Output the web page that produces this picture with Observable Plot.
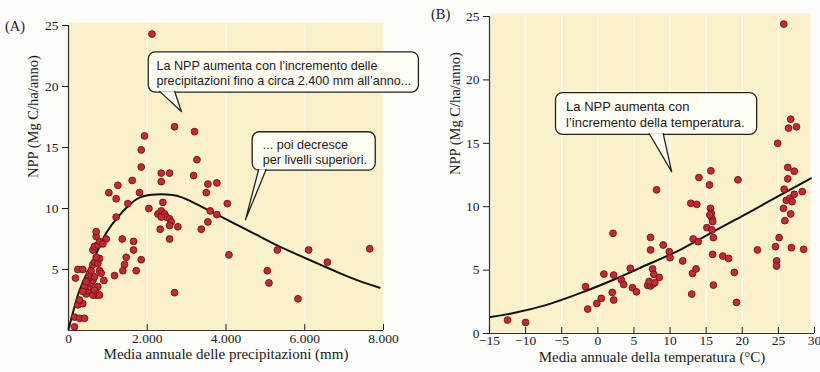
<!DOCTYPE html>
<html>
<head>
<meta charset="utf-8">
<script src="https://cdn.jsdelivr.net/npm/d3@7"></script>
<script src="https://cdn.jsdelivr.net/npm/@observablehq/plot@0.6"></script>
<style>
  body { margin: 0; background: #fcfcfa; }
  #wrap { position: relative; width: 820px; height: 372px; overflow: hidden; }
  .panel { position: absolute; top: 0; }
  .tag { position: absolute; font-family: "Liberation Serif", serif; font-size: 14.5px; color: #1a1a1a; }
</style>
</head>
<body>
<div id="wrap">
  <div id="a" class="panel" style="left:0px"></div>
  <div id="b" class="panel" style="left:410px"></div>
  <div class="tag" style="left:5px;top:18px">(A)</div>
  <div class="tag" style="left:431px;top:6px">(B)</div>
</div>
<script>
// ---------- Panel A: precipitation (mm) vs NPP ----------
const precipMM = [2120,2694,3202,1931,1847,3262,1847,2356,2567,3177,1618,2356,1254,3540,3768,1804,3499,1025,1211,1508,2397,4033,2041,3601,3768,3540,1211,
  2272,2356,2440,2482,2567,2609,2567,2356,2330,2567,2778,3372,4074,5303,6099,7650,6574,5049,5091,5828,2694,1847,1380,1423,1720,1466,1652,1652,1364,1169,958,898,
  152,152,280,407,236,363,280,178,236,363,449,491,534,576,619,661,703,619,534,491,576,619,661,746,788,703,619,661,746,788,873,703,703,788,830,746,661,746,788,407,363,449];
const precipNPP = [24.3,16.7,16.3,15.95,14.8,14.0,13.4,12.9,12.9,12.7,12.3,12.2,11.9,12.0,12.1,11.3,11.3,11.3,10.8,10.4,10.5,10.4,10.0,9.8,9.5,8.9,9.3,
  9.55,9.8,9.55,9.3,9.15,8.9,8.6,9.3,8.3,7.5,8.5,8.3,6.2,6.6,6.6,6.7,5.6,4.9,3.9,2.6,3.1,5.8,4.9,5.4,4.9,6.0,6.6,7.3,7.5,4.5,7.5,4.1,
  0.3,1.1,1.0,1.0,2.1,2.2,2.5,4.3,5.0,5.0,3.0,3.3,3.6,3.9,4.1,4.4,2.9,2.9,4.7,4.1,4.9,5.4,5.6,5.5,5.9,6.0,6.6,6.9,7.0,7.3,7.1,7.7,8.1,4.9,4.7,3.6,3.3,3.0,2.9,3.6,3.2,4.0];
const curveA_x = [0,280,534,746,958,1254,1550,1850,2230,2500,2750,3075,3499,3922,4346,4770,5193,5617,6040,6464,6887,7311,7903];
const curveA_y = [0.1,3.3,5.1,6.6,8.0,9.3,10.3,10.95,11.15,11.15,11.05,10.65,9.95,9.25,8.55,7.85,7.15,6.5,5.9,5.3,4.7,4.15,3.5];
const ticksA_x = [0,2000,4000,6000,8000];
const ticksA_y = [5,10,15,20,25];

// ---------- Panel B: temperature (°C) vs NPP ----------
const tempC = [-12.5,-10.0,-1.7,-1.4,-0.14,0.47,0.84,2.1,2.19,2.0,2.19,3.26,3.58,4.5,4.79,5.35,7.3,7.3,6.9,7.3,7.6,7.1,7.9,7.58,7.76,8.5,8.13,9.05,9.9,10.0,11.75,
  12.87,13.7,13.2,13.9,13.1,13.6,13.0,14.0,15.65,15.46,19.4,15.6,15.7,15.8,15.9,15.5,15.1,15.8,16.0,15.9,16.0,17.3,18.1,18.9,19.2,22.1,24.6,25.1,24.75,24.75,
  25.8,26.3,26.3,27.2,26.1,26.6,26.9,27.2,25.7,26.7,25.9,26.8,28.5,28.3,26.7,26.4,27.5,24.9,25.75];
const tempNPP = [1.06,0.87,3.69,1.93,2.37,2.77,4.69,7.9,4.61,3.24,2.64,4.22,3.87,5.14,3.61,3.29,7.58,6.59,3.8,3.75,3.9,4.1,4.0,5.09,4.66,4.42,11.33,6.98,6.45,5.98,5.72,
  10.27,10.19,7.46,7.24,4.74,5.09,3.11,12.3,12.83,11.72,12.12,9.87,9.48,9.08,8.82,9.35,8.35,8.17,7.56,6.24,3.82,6.11,5.92,4.82,2.45,6.59,6.85,7.56,5.72,5.32,
  11.38,12.2,13.1,12.8,10.5,10.66,10.4,10.98,9.87,9.43,8.9,6.77,6.64,11.19,16.9,16.2,16.3,15.0,24.4];
const curveB_x = [-14.85,-11.8,-7.2,-2.55,2.1,6.74,11.4,16.0,20.7,25.3,29.5];
const curveB_y = [1.3,1.6,2.24,3.16,4.22,5.4,6.6,8.03,9.48,10.93,12.24];
const ticksB_x = [-15,-10,-5,0,5,10,15,20,25,30];
const ticksB_y = [0,5,10,15,20,25];

// ---------- labels ----------
const yLabel = "NPP (Mg C/ha/anno)";
const xLabelA = "Media annuale delle precipitazioni (mm)";
const xLabelB = "Media annuale della temperatura (°C)";
const noteA1 = "La NPP aumenta con l’incremento delle\nprecipitazioni fino a circa 2.400 mm all’anno...";
const noteA2 = "... poi decresce\nper livelli superiori.";
const noteB = "La NPP aumenta con\nl’incremento della temperatura.";

// ---------- styles ----------
const YELLOW = "#faf1cb";
const DOT_FILL = "#c42a33";
const DOT_STROKE = "#6e1216";
const BOX_FILL = "#fffdf2";
const serif = "Liberation Serif, Times New Roman, serif";
const sans = "Liberation Sans, Arial, sans-serif";

const ptsA = precipMM.map((x, i) => ({x, y: precipNPP[i]}));
const curveA = curveA_x.map((x, i) => ({x, y: curveA_y[i]}));
const ptsB = tempC.map((x, i) => ({x, y: tempNPP[i]}));
const curveB = curveB_x.map((x, i) => ({x, y: curveB_y[i]}));

const fmtA = d => d === 0 ? "0" : d3.format(",")(d).replace(/,/g, ".");
const fmtB = d => d < 0 ? "\u2212" + Math.abs(d) : String(d);

function bubble(box, tail, text, textX, fs) {
  return [
    Plot.rect([box], {x1: "x1", x2: "x2", y1: "y1", y2: "y2", fill: BOX_FILL, stroke: "#222", strokeWidth: 1.3, rx: 7}),
    Plot.line(tail, {x: "x", y: "y", fill: BOX_FILL, stroke: "#222", strokeWidth: 1.3, curve: "linear"}),
    Plot.text([text], {x: textX, y: (box.y1 + box.y2) / 2, text: d => d, textAnchor: "start", lineAnchor: "middle",
      fontFamily: sans, fontSize: fs, fill: "#1a1a1a", lineHeight: 1.22})
  ];
}

const axisStyle = {fontFamily: serif, fontSize: "14px", background: "transparent", color: "#1a1a1a", overflow: "visible"};

const plotA = Plot.plot({
  width: 430, height: 372,
  marginLeft: 68, marginRight: 47, marginTop: 25, marginBottom: 42,
  style: axisStyle,
  x: {domain: [0, 8000]},
  y: {domain: [0, 25]},
  marks: [
    Plot.frame({fill: YELLOW, stroke: null, insetTop: -3}),
    Plot.gridX(ticksA_x.slice(1, 4), {stroke: "#ffffff", strokeOpacity: 0.8, strokeWidth: 1.2}),
    Plot.ruleY([0], {stroke: "#333", strokeWidth: 1.2}),
    Plot.ruleX([0], {stroke: "#333", strokeWidth: 1.2}),
    Plot.axisX({ticks: ticksA_x, tickFormat: fmtA, tickSize: -6, tickPadding: 9, fontSize: 13.5, label: null}),
    Plot.axisY({ticks: ticksA_y, tickSize: 6, tickPadding: 4, fontSize: 13.5, label: null}),
    Plot.text([xLabelA], {frameAnchor: "bottom", dy: 28, text: d => d, fontSize: 15, fontFamily: serif, fill: "#1a1a1a"}),
    Plot.text([yLabel], {frameAnchor: "left", dx: -35, rotate: -90, text: d => d, fontSize: 14.5, fontFamily: serif, fill: "#1a1a1a"}),
    ...bubble({x1: 2038, x2: 8899, y1: 19.5, y2: 22.8},
      [{x: 2316, y: 19.6}, {x: 2866, y: 17.95}, {x: 2696, y: 19.6}], noteA1, 2233, 12.6),
    ...bubble({x1: 4678, x2: 7803, y1: 13.1, y2: 16.25},
      [{x: 4830, y: 13.2}, {x: 4494, y: 9.07}, {x: 5018, y: 13.2}], noteA2, 4932, 12.6),
    Plot.line(curveA, {x: "x", y: "y", curve: "natural", stroke: "#111", strokeWidth: 2}),
    Plot.dot(ptsA, {x: "x", y: "y", r: 3.4, fill: DOT_FILL, stroke: DOT_STROKE, strokeWidth: 0.9})
  ]
});
document.getElementById("a").appendChild(plotA);

const plotB = Plot.plot({
  width: 410, height: 372,
  marginLeft: 79, marginRight: 6, marginTop: 16, marginBottom: 39,
  style: axisStyle,
  x: {domain: [-15, 30]},
  y: {domain: [0, 25]},
  marks: [
    Plot.frame({fill: YELLOW, stroke: null, insetTop: -3, insetRight: 4}),
    Plot.gridX(ticksB_x.slice(1, 9), {stroke: "#ffffff", strokeOpacity: 0.8, strokeWidth: 1.2}),
    Plot.ruleY([0], {stroke: "#333", strokeWidth: 1.2}),
    Plot.ruleX([-15], {stroke: "#333", strokeWidth: 1.2}),
    Plot.axisX({ticks: ticksB_x, tickFormat: fmtB, tickSize: -6, tickPadding: 8, fontSize: 13.5, label: null}),
    Plot.axisY({ticks: ticksB_y, tickSize: 6, tickPadding: 4, fontSize: 13.5, label: null}),
    Plot.text([xLabelB], {frameAnchor: "bottom", dy: 28, text: d => d, fontSize: 15, fontFamily: serif, fill: "#1a1a1a"}),
    Plot.text([yLabel], {frameAnchor: "left", dx: -34, rotate: -90, text: d => d, fontSize: 14.5, fontFamily: serif, fill: "#1a1a1a"}),
    ...bubble({x1: -5.79, x2: 22.06, y1: 15.67, y2: 18.96},
      [{x: 7.1, y: 15.77}, {x: 10.22, y: 12.77}, {x: 9.05, y: 15.77}], noteB, -4.4, 13),
    Plot.line(curveB, {x: "x", y: "y", curve: "natural", stroke: "#111", strokeWidth: 2}),
    Plot.dot(ptsB, {x: "x", y: "y", r: 3.4, fill: DOT_FILL, stroke: DOT_STROKE, strokeWidth: 0.9})
  ]
});
document.getElementById("b").appendChild(plotB);
</script>
</body>
</html>
